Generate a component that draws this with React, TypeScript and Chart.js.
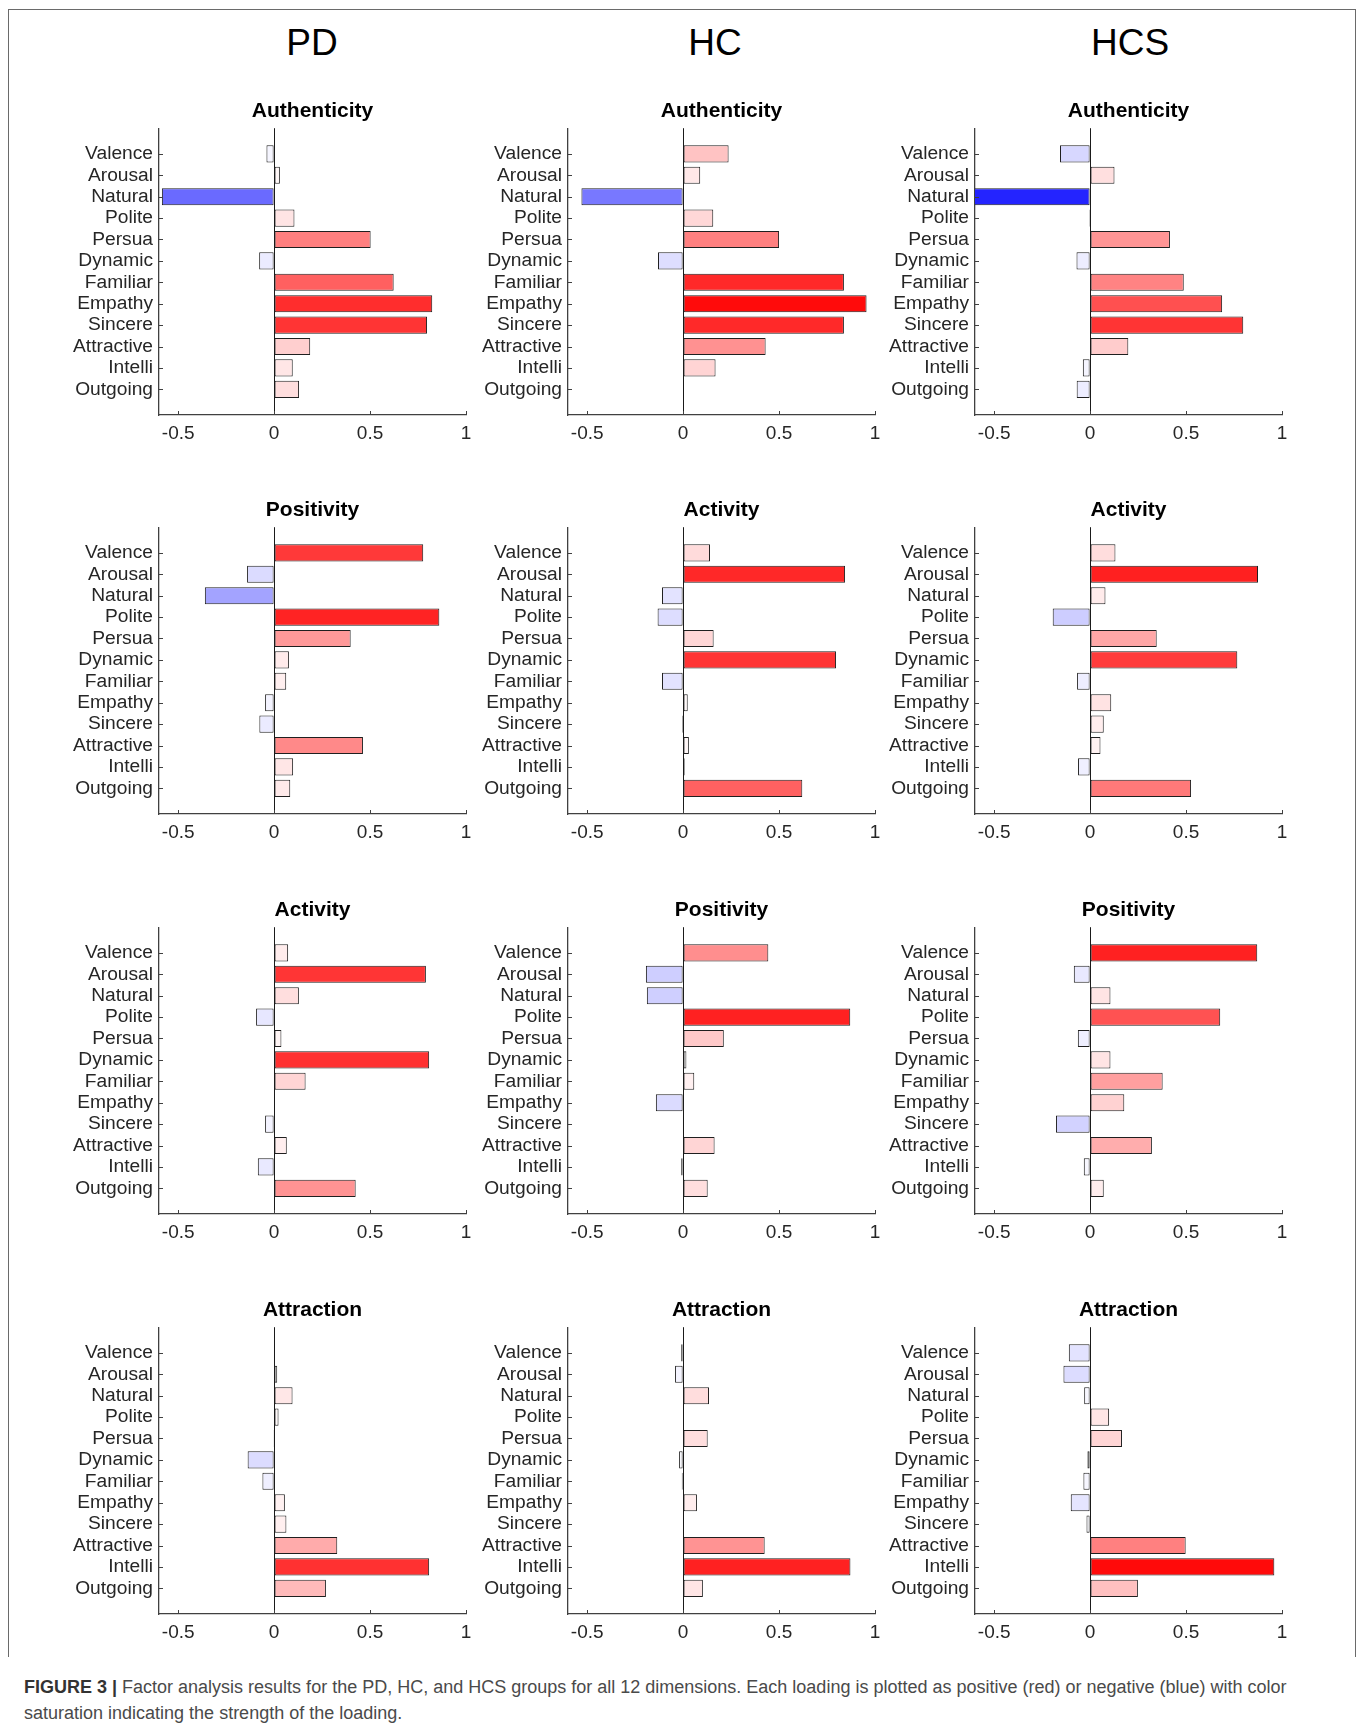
import React, { useEffect, useRef } from "react";
import { Chart, registerables } from "chart.js";

Chart.register(...registerables);

// ---------------- data ----------------
const CATEGORIES = [
  "Valence", "Arousal", "Natural", "Polite", "Persua", "Dynamic",
  "Familiar", "Empathy", "Sincere", "Attractive", "Intelli", "Outgoing",
];
const GROUPS = ["PD", "HC", "HCS"];
const X_TICKS = [-0.5, 0, 0.5, 1];

const PD_AUTHENTICITY = [-0.04, 0.03, -0.585, 0.106, 0.503, -0.078, 0.623, 0.824, 0.797, 0.188, 0.097, 0.13];
const HC_AUTHENTICITY = [0.237, 0.089, -0.53, 0.157, 0.5, -0.131, 0.838, 0.956, 0.838, 0.43, 0.169, 0.003];
const HCS_AUTHENTICITY = [-0.157, 0.127, -0.86, -0.005, 0.416, -0.071, 0.488, 0.688, 0.798, 0.199, -0.038, -0.07];

const PD_POSITIVITY = [0.777, -0.141, -0.361, 0.861, 0.399, 0.077, 0.063, -0.047, -0.077, 0.463, 0.099, 0.084];
const HC_ACTIVITY = [0.14, 0.844, -0.11, -0.133, 0.159, 0.797, -0.11, 0.024, -0.006, 0.03, 0.008, 0.621];
const HCS_ACTIVITY = [0.132, 0.875, 0.08, -0.195, 0.347, 0.767, -0.068, 0.11, 0.071, 0.054, -0.063, 0.526];

const PD_ACTIVITY = [0.073, 0.791, 0.129, -0.094, 0.038, 0.808, 0.164, 0.001, -0.047, 0.066, -0.085, 0.425];
const HC_POSITIVITY = [0.444, -0.194, -0.189, 0.871, 0.212, 0.017, 0.058, -0.142, -0.002, 0.164, -0.01, 0.128];
const HCS_POSITIVITY = [0.871, -0.085, 0.106, 0.678, -0.064, 0.106, 0.378, 0.178, -0.178, 0.322, -0.033, 0.071];

const PD_ATTRACTION = [0.003, 0.016, 0.096, 0.023, -0.004, -0.138, -0.061, 0.056, 0.064, 0.329, 0.808, 0.27];
const HC_ATTRACTION = [-0.01, -0.042, 0.135, 0.003, 0.128, -0.021, -0.007, 0.072, -0.003, 0.425, 0.872, 0.103];
const HCS_ATTRACTION = [-0.111, -0.139, -0.031, 0.099, 0.166, -0.014, -0.035, -0.101, -0.019, 0.498, 0.96, 0.249];

const PANELS = [
  [{ title: "Authenticity", values: PD_AUTHENTICITY }, { title: "Authenticity", values: HC_AUTHENTICITY }, { title: "Authenticity", values: HCS_AUTHENTICITY }],
  [{ title: "Positivity", values: PD_POSITIVITY }, { title: "Activity", values: HC_ACTIVITY }, { title: "Activity", values: HCS_ACTIVITY }],
  [{ title: "Activity", values: PD_ACTIVITY }, { title: "Positivity", values: HC_POSITIVITY }, { title: "Positivity", values: HCS_POSITIVITY }],
  [{ title: "Attraction", values: PD_ATTRACTION }, { title: "Attraction", values: HC_ATTRACTION }, { title: "Attraction", values: HCS_ATTRACTION }],
];

// ---------------- layout / style ----------------
const FONT = '"Liberation Sans", Arial, Helvetica, sans-serif';
const AXIS_COLOR = "#404040";
const TEXT_COLOR = "#262626";
const PLOT_LEFT = [159, 568, 975];
const PLOT_TOP = [128, 527, 927, 1327];
const PLOT_W = 307;
const PLOT_H = 287;
const Y_AXIS_W = 110;
const TITLE_H = 40;
const X_AXIS_H = 40;
const RIGHT_PAD = 14;
const HEADER_X = [312, 715, 1130];

function barColor(v: number): string {
  const s = Math.min(1, Math.abs(v));
  const c = Math.round(255 * (1 - s));
  return v >= 0 ? `rgb(255,${c},${c})` : `rgb(${c},${c},255)`;
}

const innerTicks = {
  id: "innerTicks",
  afterDraw(chart: any) {
    const { ctx, chartArea, scales } = chart;
    ctx.save();
    ctx.strokeStyle = AXIS_COLOR;
    ctx.lineWidth = 1;
    ctx.beginPath();
    scales.y.ticks.forEach((t: any) => {
      const py = Math.round(scales.y.getPixelForValue(t.value)) + 0.5;
      ctx.moveTo(chartArea.left, py);
      ctx.lineTo(chartArea.left + 4, py);
    });
    scales.x.ticks.forEach((t: any) => {
      const px = Math.round(scales.x.getPixelForValue(t.value)) + 0.5;
      ctx.moveTo(px, chartArea.bottom);
      ctx.lineTo(px, chartArea.bottom - 4);
    });
    ctx.stroke();
    ctx.restore();
  },
};

function Panel({ title, values, left, top }: { title: string; values: number[]; left: number; top: number }) {
  const ref = useRef<HTMLCanvasElement | null>(null);
  const width = Y_AXIS_W + PLOT_W + RIGHT_PAD;
  const height = TITLE_H + PLOT_H + X_AXIS_H;

  useEffect(() => {
    if (!ref.current) return;
    const data = CATEGORIES.map((_, i) => ({ x: values[i], y: i + 1 }));
    const chart = new Chart(ref.current, {
      type: "bar",
      data: {
        datasets: [
          {
            data: data as any,
            backgroundColor: values.map(barColor),
            borderColor: "#1f1f1f",
            borderWidth: 1,
            borderSkipped: false,
            barPercentage: 0.8,
            categoryPercentage: 1,
          } as any,
        ],
      },
      options: {
        indexAxis: "y",
        responsive: false,
        animation: false,
        events: [],
        layout: { padding: { left: 0, right: RIGHT_PAD, top: 0, bottom: 0 } },
        plugins: {
          legend: { display: false },
          tooltip: { enabled: false },
          title: {
            display: true,
            text: title,
            fullSize: false,
            color: "#000",
            font: { family: FONT, size: 21, weight: "bold" },
            padding: { top: 11, bottom: 4 },
          },
        },
        scales: {
          x: {
            type: "linear",
            min: -0.6,
            max: 1,
            offset: false,
            afterBuildTicks: (scale: any) => {
              scale.ticks = X_TICKS.map((v) => ({ value: v }));
            },
            afterFit: (scale: any) => {
              scale.height = X_AXIS_H;
            },
            ticks: {
              callback: (v: any) => String(v),
              font: { family: FONT, size: 19 },
              color: TEXT_COLOR,
              padding: 7,
              maxRotation: 0,
              autoSkip: false,
            },
            grid: {
              offset: false,
              drawTicks: false,
              lineWidth: 1,
              color: (ctx: any) => (ctx.tick && ctx.tick.value === 0 ? "#1a1a1a" : "rgba(0,0,0,0)"),
            },
            border: { display: true, color: AXIS_COLOR, width: 1.3 },
          },
          y: {
            type: "linear",
            min: -0.2,
            max: 13.2,
            reverse: true,
            offset: false,
            afterBuildTicks: (scale: any) => {
              scale.ticks = CATEGORIES.map((_, i) => ({ value: i + 1 }));
            },
            afterFit: (scale: any) => {
              scale.width = Y_AXIS_W;
            },
            ticks: {
              callback: (v: any) => CATEGORIES[Math.round(Number(v)) - 1],
              font: { family: FONT, size: 19.2 },
              color: TEXT_COLOR,
              padding: 6,
              autoSkip: false,
            },
            grid: { display: false, drawTicks: false, offset: false },
            border: { display: true, color: AXIS_COLOR, width: 1.3 },
          },
        },
      } as any,
      plugins: [innerTicks],
    });
    return () => chart.destroy();
  }, [title, values]);

  return (
    <canvas
      ref={ref}
      width={width}
      height={height}
      style={{ position: "absolute", left, top, width, height }}
    />
  );
}

export default function App() {
  return (
    <div
      style={{
        position: "absolute",
        left: 0,
        top: 0,
        width: 1363,
        height: 1727,
        overflow: "hidden",
        background: "#fff",
        fontFamily: FONT,
      }}
    >
      {/* frame */}
      <div
        style={{
          position: "absolute",
          left: 8,
          top: 9,
          width: 1348,
          height: 1648,
          borderLeft: "1px solid #6a6a6a",
          borderTop: "1px solid #6a6a6a",
          borderRight: "1px solid #6a6a6a",
          boxSizing: "border-box",
        }}
      />
      {GROUPS.map((g, c) => (
        <div
          key={g}
          style={{
            position: "absolute",
            left: HEADER_X[c],
            top: 42,
            transform: "translate(-50%, -50%)",
            fontSize: 37,
            lineHeight: 1,
            color: "#000",
            whiteSpace: "nowrap",
          }}
        >
          {g}
        </div>
      ))}
      {PANELS.map((row, r) =>
        row.map((p, c) => (
          <Panel
            key={`${r}-${c}`}
            title={p.title}
            values={p.values}
            left={PLOT_LEFT[c] - Y_AXIS_W}
            top={PLOT_TOP[r] - TITLE_H}
          />
        ))
      )}
      <div
        style={{
          position: "absolute",
          left: 24,
          top: 1674,
          fontSize: 18,
          lineHeight: "26px",
          color: "#4a4a4a",
          whiteSpace: "nowrap",
        }}
      >
        <span style={{ fontWeight: "bold", color: "#333" }}>FIGURE 3 |</span> Factor analysis results for the PD, HC, and HCS groups for all 12 dimensions. Each loading is plotted as positive (red) or negative (blue) with color
        <br />
        saturation indicating the strength of the loading.
      </div>
    </div>
  );
}
